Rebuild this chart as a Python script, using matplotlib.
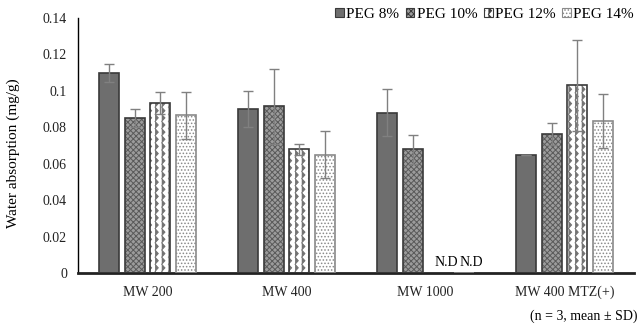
import warnings
warnings.filterwarnings('ignore')
import numpy as np
import matplotlib
matplotlib.use('Agg')
import matplotlib.pyplot as plt
import matplotlib.hatch as mhatch
from matplotlib.patches import Patch

# ---------------- data ----------------
categories = ["MW 200", "MW 400", "MW 1000", "MW 400 MTZ(+)"]
series = ["PEG 8%", "PEG 10%", "PEG 12%", "PEG 14%"]
peg8 = [0.110, 0.090, 0.088, 0.065]
peg10 = [0.085, 0.0915, 0.068, 0.0765]
peg12 = [0.0935, 0.068, 0.0, 0.103]
peg14 = [0.0865, 0.065, 0.0, 0.0835]
sd8 = [0.005, 0.010, 0.013, 0.0]
sd10 = [0.005, 0.0205, 0.008, 0.006]
sd12 = [0.006, 0.003, 0.0, 0.025]
sd14 = [0.013, 0.013, 0.0, 0.015]
nd_mask12 = [False, False, True, False]
nd_mask14 = [False, False, True, False]


# ---------------- custom wave hatch ----------------
class WaveHatch(mhatch.HatchPatternBase):
    def __init__(self, hatch, density):
        n = hatch.count('w')
        self.num_lines = 15 * n if n else 0
        self.num_periods = 14
        self.pts = 2 * self.num_periods + 1
        self.num_vertices = self.num_lines * self.pts

    def set_vertices_and_codes(self, vertices, codes):
        amp = 0.016
        ys = np.linspace(0, 1, self.pts)
        offs = np.where(np.arange(self.pts) % 2 == 0, -amp, amp)
        k = 0
        for i in range(self.num_lines):
            x0 = (i + 0.5) / self.num_lines
            vertices[k:k + self.pts, 0] = x0 + offs
            vertices[k:k + self.pts, 1] = ys
            codes[k] = matplotlib.path.Path.MOVETO
            codes[k + 1:k + self.pts] = matplotlib.path.Path.LINETO
            k += self.pts


mhatch._hatch_types.append(WaveHatch)

plt.rcParams['font.family'] = ['Liberation Serif', 'DejaVu Serif']
plt.rcParams['hatch.linewidth'] = 0.7

fig = plt.figure(figsize=(6.43, 3.24), dpi=100)
ax = fig.add_axes([0.1213, 0.1574, 0.865, 0.787])

x = np.arange(len(categories))
w = 0.144
offsets = [-0.275, -0.0917, 0.0917, 0.275]

styles = [
    dict(face='#6e6e6e', hatch=None, hcol='#6e6e6e', edge='#3a3a3a'),
    dict(face='#9c9c9c', hatch='xxxxxx', hcol='#5a5a5a', edge='#3a3a3a'),
    dict(face='white', hatch='w', hcol='#727272', edge='#3a3a3a'),
    dict(face='white', hatch='.....', hcol='#8a8a8a', edge='#8a8a8a'),
]
vals = [peg8, peg10, peg12, peg14]
sds = [sd8, sd10, sd12, sd14]

for i, (v, s, st) in enumerate(zip(vals, sds, styles)):
    pos = x + offsets[i]
    ax.bar(pos, v, w, color=st['face'], hatch=st['hatch'],
           edgecolor=st['hcol'], linewidth=0, zorder=2)
    ax.bar(pos, v, w, fill=False, edgecolor=st['edge'], linewidth=1.2, zorder=3)
    vv = np.array(v)
    ss = np.array(s)
    mask = vv > 0
    ax.errorbar(pos[mask], vv[mask], yerr=ss[mask], fmt='none', ecolor='#808080',
                elinewidth=1.0, capsize=3.5, capthick=1.0, zorder=4)

# N.D labels
for i, m12 in enumerate(nd_mask12):
    if m12:
        ax.text(x[i] + offsets[2] + 0.055, 0.002, "N.D", ha='center', va='bottom', fontsize=10)
for i, m14 in enumerate(nd_mask14):
    if m14:
        ax.text(x[i] + offsets[3] + 0.055, 0.002, "N.D", ha='center', va='bottom', fontsize=10)

ax.set_xlim(-0.5, len(categories) - 0.5)
ax.set_ylim(0, 0.14)
ax.set_yticks(np.arange(0, 0.141, 0.02))
ax.set_yticklabels(['0', '0.02', '0.04', '0.06', '0.08', '0.1', '0.12', '0.14'])
ax.set_xticks(x)
ax.set_xticklabels(categories)
ax.tick_params(axis='both', length=0, labelsize=10, colors='#222222')
ax.tick_params(axis='y', pad=8)
ax.tick_params(axis='x', pad=9)
for sp in ['top', 'right']:
    ax.spines[sp].set_visible(False)
ax.spines['left'].set_linewidth(1.0)
ax.spines['bottom'].set_linewidth(2.0)
ax.spines['bottom'].set_color('#222222')
ax.set_ylabel('Water absorption (mg/g)', fontsize=11)
ax.yaxis.set_label_coords(-0.105, 0.47)

handles = [Patch(facecolor=st['face'], hatch=st['hatch'], edgecolor=st['edge'], linewidth=0.8)
           for st in styles]
fig.legend(handles, series, loc='center right', bbox_to_anchor=(0.995, 0.955), ncol=4,
           frameon=False, fontsize=11, handlelength=0.55, handleheight=0.55,
           handletextpad=0.15, columnspacing=0.45, borderaxespad=0)

fig.text(0.992, 0.025, '(n = 3, mean \u00b1 SD)', ha='right', va='center', fontsize=10)

fig.savefig('out.png', dpi=100)
